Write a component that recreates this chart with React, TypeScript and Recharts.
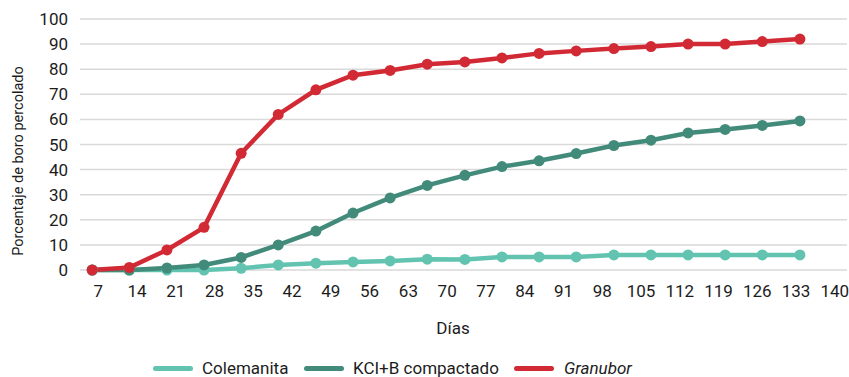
import React from 'react';
import { LineChart, Line, XAxis, YAxis, CartesianGrid } from 'recharts';

// Tick labels on the days axis
const dayTicks = [7, 14, 21, 28, 35, 42, 49, 56, 63, 70, 77, 84, 91, 98, 105, 112, 119, 126, 133, 140];
const yTicks = [0, 10, 20, 30, 40, 50, 60, 70, 80, 90, 100];

const pointDays = [5.9, 12.6, 19.4, 26.1, 32.8, 39.5, 46.3, 53.0, 59.7, 66.4, 73.2, 79.9, 86.6, 93.3, 100.1, 106.8, 113.5, 120.2, 126.9, 133.7];

// Series values (% boron leached)
const colemanita = [0, 0, 0, 0, 0.7, 2, 2.7, 3.2, 3.6, 4.3, 4.2, 5.2, 5.2, 5.2, 6, 6, 6, 6, 6, 6];
const kciB = [0, 0, 0.8, 2, 5, 10, 15.5, 22.7, 28.7, 33.7, 37.7, 41.2, 43.5, 46.4, 49.6, 51.7, 54.6, 56, 57.6, 59.4];
const granubor = [0, 1, 8, 17, 46.5, 62, 71.8, 77.6, 79.5, 82, 82.9, 84.5, 86.3, 87.3, 88.2, 89, 90, 90, 91, 92];

const data = pointDays.map((d, i) => ({
  day: d,
  colemanita: colemanita[i],
  kciB: kciB[i],
  granubor: granubor[i],
}));

const C_LIGHT = '#62c4b0';
const C_DARK = '#428b7b';
const C_RED = '#d22a35';
const FONT = 'Roboto, "Noto Sans", sans-serif';
const TEXT = '#1c1c1c';

const legendItems = [
  { label: 'Colemanita', color: C_LIGHT, lineX: 153, textX: 202, italic: false },
  { label: 'KCI+B compactado', color: C_DARK, lineX: 304, textX: 353, italic: false },
  { label: 'Granubor', color: C_RED, lineX: 514, textX: 564, italic: true },
];

export default function App() {
  return (
    <div style={{ position: 'absolute', left: 0, top: 0, width: 849, height: 377, background: '#fff', fontFamily: FONT }}>
      <LineChart width={849} height={377} data={data} margin={{ top: 19, right: 2, bottom: 0, left: 0 }}>
        <CartesianGrid horizontal={true} vertical={false} stroke="#d9d9d9" strokeWidth={1.5} />
        <XAxis
          dataKey="day"
          type="number"
          domain={[3.7, 142.2]}
          ticks={dayTicks}
          interval={0}
          axisLine={false}
          tickLine={false}
          tickSize={0}
          tickMargin={15}
          height={107}
          tick={{ fill: TEXT, fontSize: 17, fontFamily: FONT }}
          label={() => (
            <text x={453} y={328} textAnchor="middle" dominantBaseline="central" fill={TEXT} fontSize={17} fontFamily={FONT}>
              Días
            </text>
          )}
        />
        <YAxis
          type="number"
          domain={[0, 100]}
          ticks={yTicks}
          interval={0}
          axisLine={false}
          tickLine={false}
          tickSize={0}
          tickMargin={12}
          width={80}
          tick={{ fill: TEXT, fontSize: 17, fontFamily: FONT }}
          label={() => (
            <text
              x={18}
              y={161}
              transform="rotate(-90 18 161)"
              textAnchor="middle"
              dominantBaseline="central"
              fill={TEXT}
              fontSize={14.5}
              fontFamily={FONT}
            >
              Porcentaje de boro percolado
            </text>
          )}
        />
        <Line
          type="linear"
          dataKey="colemanita"
          stroke={C_LIGHT}
          strokeWidth={4.5}
          dot={{ r: 5.5, fill: C_LIGHT, stroke: C_LIGHT, strokeWidth: 0 }}
          activeDot={false}
          isAnimationActive={false}
        />
        <Line
          type="linear"
          dataKey="kciB"
          stroke={C_DARK}
          strokeWidth={4.5}
          dot={{ r: 5.5, fill: C_DARK, stroke: C_DARK, strokeWidth: 0 }}
          activeDot={false}
          isAnimationActive={false}
        />
        <Line
          type="linear"
          dataKey="granubor"
          stroke={C_RED}
          strokeWidth={4.5}
          dot={{ r: 5.5, fill: C_RED, stroke: C_RED, strokeWidth: 0 }}
          activeDot={false}
          isAnimationActive={false}
        />
      </LineChart>
      {legendItems.map((it) => (
        <React.Fragment key={it.label}>
          <div
            style={{
              position: 'absolute',
              left: it.lineX,
              top: 366,
              width: 40,
              height: 5,
              borderRadius: 3,
              background: it.color,
            }}
          />
          <div
            style={{
              position: 'absolute',
              left: it.textX,
              top: 357,
              lineHeight: '22px',
              fontSize: 17,
              color: TEXT,
              fontStyle: it.italic ? 'italic' : 'normal',
              whiteSpace: 'nowrap',
            }}
          >
            {it.label}
          </div>
        </React.Fragment>
      ))}
    </div>
  );
}
